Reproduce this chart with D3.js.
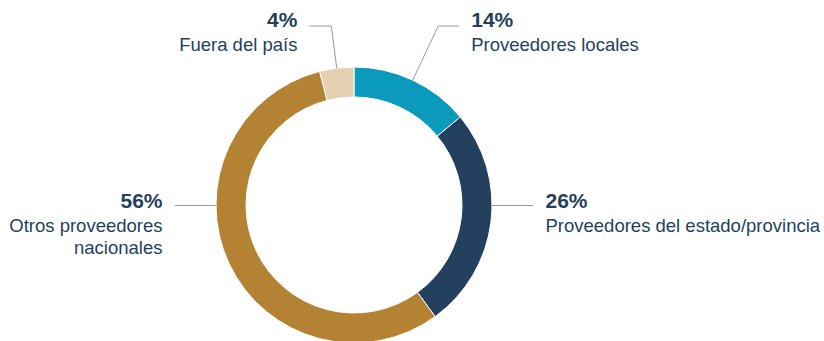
<!DOCTYPE html>
<head>
  <meta charset="utf-8">
  <script src="https://d3js.org/d3.v7.min.js"></script>
  <style>
    body { margin: 0; background: #fff; }
    text { font-family: "Liberation Sans", Arial, sans-serif; fill: #243f5b; }
    .pct { font-weight: bold; font-size: 21px; }
    .lbl { font-size: 18.5px; }
    .leader { fill: none; stroke: #9a9a9a; stroke-width: 1; }
  </style>
</head>
<body>
  <div class="chart"></div>
  <script>
    // data
    var categories = ["Proveedores locales", "Proveedores del estado/provincia", "Otros proveedores nacionales", "Fuera del país"];
    var values = [14, 26, 56, 4];
    var labelLines = [["Proveedores locales"], ["Proveedores del estado/provincia"], ["Otros proveedores", "nacionales"], ["Fuera del país"]];
    var colors = ["#0a9bbc", "#23405e", "#b48233", "#e4cfb1"];

    // layout of leader lines (top ones bend at a fixed height, side ones run flat)
    var leaders = [
      {type: "elbow", y: 26, len: 21},
      {type: "side", len: 41},
      {type: "side", len: 41},
      {type: "elbow", y: 26, len: 22}
    ];

    var width = 824, height = 341,
        cx = 354, cy = 205,
        outerR = 138, innerR = 108;

    var svg = d3.select(".chart").append("svg")
        .attr("width", width)
        .attr("height", height);

    var g = svg.append("g")
        .attr("transform", "translate(" + cx + "," + cy + ")");

    var pie = d3.pie().sort(null).value(function(d) { return d; });
    var arcs = pie(values);

    var arc = d3.arc().innerRadius(innerR).outerRadius(outerR);

    g.selectAll("path.slice")
      .data(arcs)
      .enter().append("path")
        .attr("class", "slice")
        .attr("d", arc)
        .attr("fill", function(d, i) { return colors[i]; })
        .attr("stroke", "#fff")
        .attr("stroke-width", 1);

    arcs.forEach(function(d, i) {
      var mid = (d.startAngle + d.endAngle) / 2;
      var L = leaders[i];
      var pts, tx, ty, anchor, dir;
      if (L.type === "elbow") {
        var sx = Math.sin(mid) * outerR, sy = -Math.cos(mid) * outerR;
        var ey = L.y - cy;
        var ex = sx + (ey - sy) * Math.tan(mid) * -1;
        dir = Math.sin(mid) >= 0 ? 1 : -1;
        var endX = ex + dir * L.len;
        pts = [[sx, sy], [ex, ey], [endX, ey]];
        tx = endX + dir * 12;
        ty = ey + 1;
      } else {
        dir = Math.sin(mid) >= 0 ? 1 : -1;
        var sx2 = dir * outerR;
        var endX2 = sx2 + dir * L.len;
        pts = [[sx2, 0.5], [endX2, 0.5]];
        tx = endX2 + dir * 12.5;
        ty = 2.5;
      }
      anchor = dir > 0 ? "start" : "end";

      g.append("path")
        .attr("class", "leader")
        .attr("d", d3.line()(pts));

      g.append("text")
        .attr("class", "pct")
        .attr("x", tx)
        .attr("y", ty)
        .attr("text-anchor", anchor)
        .text(values[i] + "%");

      labelLines[i].forEach(function(line, j) {
        g.append("text")
          .attr("class", "lbl")
          .attr("x", tx)
          .attr("y", ty + 24 + j * 22)
          .attr("text-anchor", anchor)
          .text(line);
      });
    });
  </script>
</body>
